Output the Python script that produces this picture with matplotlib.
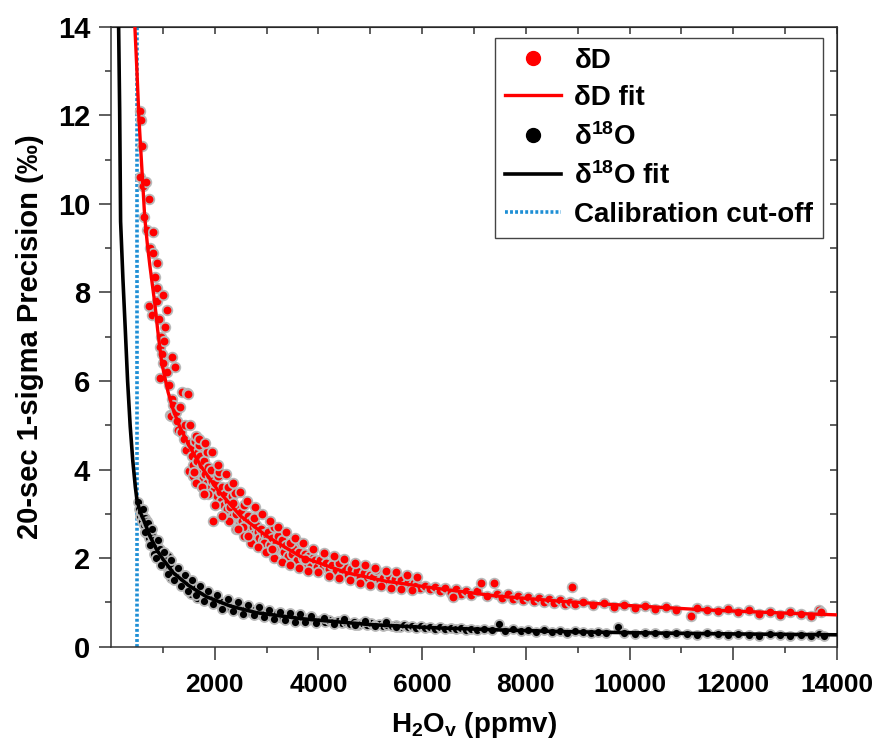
import numpy as np
import matplotlib
matplotlib.use("Agg")
import matplotlib.pyplot as plt
from matplotlib.lines import Line2D

plt.rcParams['font.family'] = ['Liberation Sans', 'DejaVu Sans']
plt.rcParams['font.weight'] = 'bold'
plt.rcParams['mathtext.fontset'] = 'custom'
plt.rcParams['mathtext.rm'] = 'Liberation Sans'
plt.rcParams['mathtext.bf'] = 'Liberation Sans:bold'
plt.rcParams['mathtext.it'] = 'Liberation Sans:italic'

# -------------------------------------------------------
# DATA
# -------------------------------------------------------
# dD scatter
dD_x = [556, 575, 590, 556, 620, 671, 633, 729, 700, 818, 760, 805, 734, 785,
        881, 850, 890, 944, 880, 920, 1010, 1073, 1040, 960, 980, 945, 1000, 1020,
        1080, 1120, 1169, 1232, 1136, 1150, 1180, 1200, 1250, 1280, 1328, 1360,
        1300, 1350, 1400, 1456, 1420, 1476, 1500, 1450, 1520, 1560, 1600, 1580,
        1620, 1650, 1680, 1700, 1720, 1750, 1780, 1800, 1820, 1850, 1880, 1900,
        1920, 1950, 1975, 1990, 1700, 1850, 1640, 1760, 1930,
        2010, 2040, 2060, 2100, 2120, 2150, 2180, 2200, 2230, 2260, 2300, 2330,
        2360, 2400, 2420, 2450, 2480, 2500, 2530, 2560, 2600, 2620, 2650, 2680,
        2700, 2730, 2760, 2800, 2830, 2860, 2900, 2930, 2960, 3000, 2080, 2250,
        2350, 2550, 2750, 2950,
        3030, 3070, 3100, 3140, 3180, 3220, 3260, 3300, 3340, 3380, 3420, 3460,
        3500, 3540, 3580, 3620, 3660, 3700, 3740, 3780, 3820, 3860, 3900, 3940,
        3980, 3150, 3450, 3750,
        4030, 4090, 4150, 4210, 4270, 4330, 4390, 4450, 4510, 4570, 4630, 4690,
        4750, 4810, 4870, 4930, 4990, 5050, 5115, 5180, 5240, 5300, 5360, 5420,
        5480, 5540, 5600, 5660, 5720, 5780, 5840, 5900, 5960, 4400,
        6050, 6150, 6250, 6350, 6450, 6550, 6650, 6750, 6850, 6950, 7050, 7130,
        7250, 7380, 7450, 7550, 7650, 7750, 7850, 7950, 8050, 8150, 8250, 8350,
        8450, 8550, 8650, 8750, 8900, 8850, 8950, 6600,
        9100, 9300, 9500, 9700, 9900, 10100, 10300, 10500, 10700, 10900, 11180,
        11300, 11500, 11700, 11900, 12100, 12300, 12500, 12700, 12900, 13100,
        13300, 13500, 13650, 13700,
        1520, 1580, 1640, 1700, 1760, 1820, 1880, 1940, 2000, 2070, 2140, 2210,
        2280, 2350, 2420, 2490, 2560, 2630, 2700, 2770, 2840, 2910, 2980, 3060,
        3140, 3220, 3300, 3380, 3460, 3540, 3620, 3700, 3800, 3900, 4000, 4100,
        4200, 4300, 4400, 4500, 4600, 4700, 4800, 4900, 5000, 5100, 5200, 5300,
        5400, 5500, 5600, 5700, 5800, 5900, 1600, 1800, 2150, 2450, 2650, 3100]
dD_y = [12.1, 11.9, 11.3, 10.6, 10.4, 10.5, 9.7, 10.1, 9.4, 9.37, 9.0, 8.9, 7.7, 7.5,
        8.67, 8.35, 8.1, 6.77, 7.8, 7.4, 7.95, 7.6, 7.22, 7.0, 6.6, 6.07, 6.4, 6.9,
        6.2, 5.9, 6.55, 6.32, 5.24, 5.22, 5.6, 5.45, 5.3, 5.1, 5.42, 5.76,
        4.9, 4.85, 4.7, 5.73, 5.0, 5.7, 3.96, 4.45, 4.6, 4.3, 4.5, 4.1,
        4.65, 4.2, 4.4, 3.95, 4.3, 4.1, 3.8, 4.2, 3.9, 3.7, 4.05, 3.85,
        3.6, 3.75, 2.85, 3.55, 4.55, 4.4, 4.75, 3.6, 4.0,
        3.7, 3.4, 3.85, 3.5, 3.3, 3.6, 3.2, 3.45, 3.1, 3.3, 3.15, 3.4,
        2.95, 3.48, 3.0, 3.1, 2.8, 3.05, 2.85, 3.2, 2.9, 2.75, 2.95, 2.6,
        2.85, 2.7, 2.55, 2.75, 2.6, 2.45, 2.65, 2.4, 2.55, 2.5, 3.95, 3.6,
        3.25, 2.7, 2.9, 2.35,
        2.6, 2.3, 2.45, 2.7, 2.35, 2.5, 2.2, 2.4, 2.15, 2.3, 2.05, 2.25,
        2.1, 2.2, 1.95, 2.15, 2.35, 2.0, 2.1, 1.9, 2.05, 1.85, 2.0, 1.95,
        1.8, 2.2, 2.35, 1.98,
        1.95, 1.8, 1.9, 1.75, 1.85, 1.7, 1.95, 1.65, 1.8, 1.62, 1.75, 1.6,
        1.7, 1.55, 1.66, 1.5, 1.62, 1.58, 1.74, 1.48, 1.56, 1.45, 1.6, 1.42,
        1.52, 1.4, 1.5, 1.38, 1.47, 1.35, 1.44, 1.4, 1.32, 1.88,
        1.38, 1.3, 1.36, 1.25, 1.33, 1.22, 1.3, 1.2, 1.27, 1.17, 1.25, 1.43,
        1.15, 1.45, 1.2, 1.1, 1.18, 1.08, 1.15, 1.05, 1.12, 1.03, 1.1, 1.0,
        1.08, 0.98, 1.05, 0.96, 1.36, 1.02, 0.97, 1.12,
        1.0, 0.94, 0.98, 0.9, 0.95, 0.88, 0.93, 0.85, 0.9, 0.84, 0.7,
        0.88, 0.82, 0.8, 0.85, 0.78, 0.82, 0.75, 0.79, 0.72, 0.78,
        0.74, 0.7, 0.82, 0.78,
        5.0, 3.85, 3.7, 4.7, 3.6, 4.6, 3.45, 4.4, 3.2, 4.1, 2.95, 3.9,
        2.85, 3.7, 2.65, 3.5, 2.5, 3.3, 2.35, 3.15, 2.25, 3.0, 2.15, 2.85,
        2.0, 2.7, 1.92, 2.6, 1.85, 2.45, 1.78, 2.35, 1.72, 2.2, 1.68, 2.12,
        1.6, 2.05, 1.55, 1.98, 1.5, 1.9, 1.45, 1.85, 1.4, 1.78, 1.38, 1.72,
        1.33, 1.68, 1.3, 1.62, 1.28, 1.58, 3.95, 3.45, 2.95, 2.65, 2.5, 2.2]

# d18O scatter
d18O_x = [530, 545, 560, 580, 600, 615, 630, 650, 665, 680, 700, 720, 735, 750,
          770, 790, 810, 830, 850, 870, 890, 910, 930, 950, 970, 990, 700, 820,
          1020, 1050, 1070, 1100, 1120, 1150, 1170, 1200, 1230, 1250, 1280, 1300,
          1330, 1360, 1390, 1420, 1450, 1480, 1510, 1540, 1570, 1600, 1630, 1660,
          1690, 1720, 1750, 1780, 1810, 1840, 1870, 1900, 1930, 1960, 1990, 1100,
          1400, 1650, 1150, 1550,
          2030, 2080, 2130, 2180, 2230, 2280, 2330, 2380, 2430, 2480, 2530, 2580,
          2630, 2680, 2730, 2780, 2830, 2880, 2930, 2980, 3030, 3100, 3170, 3240,
          3310, 3380, 3450, 3520, 3590, 3660, 3730, 3800, 3870, 3940, 2250, 2600,
          2900, 3300, 3600, 3900,
          4050, 4130, 4210, 4290, 4370, 4450, 4530, 4610, 4690, 4770, 4850, 4930,
          5010, 5090, 5170, 5250, 5330, 5410, 5490, 5570, 5650, 5730, 5810, 5890,
          5970, 6050, 6150, 6250, 6350, 6450, 6550, 6650, 6750, 6850, 6950,
          7050, 7200, 7350, 7478, 7600, 7750, 7900, 8050, 8200, 8350, 8500, 8650,
          8800, 8950, 9100, 9250, 9400, 9550, 9780, 9900, 10100, 10300, 10500,
          10700, 10900, 11100, 11300, 11500, 11700, 11900, 12100, 12300, 12500,
          12700, 12900, 13100, 13300, 13500, 13650, 13750,
          620, 660, 710, 760, 800, 860, 900, 960, 1030, 1090, 1160, 1220,
          1290, 1350, 1420, 1490, 1560, 1640, 1720, 1800, 1880, 1960, 2050, 2150,
          2250, 2350, 2450, 2550, 2650, 2750, 2850, 2950, 3050, 3150, 3250, 3350,
          3450, 3550, 3650, 3750, 3850, 3950, 4100, 4300, 4500, 4700, 4900, 5100,
          5300, 5500]
d18O_y = [3.26, 3.1, 2.95, 3.05, 2.85, 2.95, 2.75, 2.9, 2.6, 2.8, 2.55, 2.7, 2.45, 2.6,
          2.35, 2.5, 2.3, 2.42, 2.2, 2.35, 2.1, 2.25, 2.05, 2.2, 1.95, 2.1, 2.85, 2.1,
          1.95, 1.85, 1.9, 1.75, 1.82, 1.68, 1.78, 1.6, 1.72, 1.55, 1.65, 1.5,
          1.58, 1.45, 1.52, 1.4, 1.48, 1.33, 1.42, 1.3, 1.38, 1.25, 1.33, 1.2,
          1.28, 1.17, 1.24, 1.12, 1.2, 1.1, 1.16, 1.06, 1.13, 1.03, 1.09, 2.05,
          1.62, 1.1, 1.55, 1.2,
          1.05, 0.98, 1.02, 0.94, 0.99, 0.9, 0.95, 0.87, 0.92, 0.84, 0.89, 0.81,
          0.86, 0.79, 0.83, 0.76, 0.81, 0.74, 0.78, 0.72, 0.76, 0.7, 0.74, 0.67,
          0.72, 0.65, 0.69, 0.64, 0.67, 0.62, 0.66, 0.6, 0.64, 0.59, 1.02, 0.88,
          0.73, 0.64, 0.6, 0.63,
          0.6, 0.56, 0.6, 0.55, 0.58, 0.53, 0.57, 0.52, 0.55, 0.5, 0.54, 0.49,
          0.53, 0.48, 0.51, 0.47, 0.5, 0.46, 0.49, 0.45, 0.48, 0.44, 0.47, 0.43,
          0.46, 0.42, 0.45, 0.41, 0.44, 0.4, 0.43, 0.39, 0.42, 0.38, 0.41,
          0.38, 0.41, 0.37, 0.52, 0.36, 0.39, 0.35, 0.38, 0.34, 0.37, 0.33, 0.36,
          0.32, 0.35, 0.34, 0.31, 0.34, 0.3, 0.45, 0.32, 0.29, 0.32, 0.3,
          0.28, 0.31, 0.29, 0.27, 0.3, 0.28, 0.26, 0.29, 0.27, 0.25,
          0.28, 0.26, 0.25, 0.27, 0.24, 0.28, 0.25,
          3.1, 2.6, 2.8, 2.3, 2.65, 2.0, 2.4, 1.85, 2.15, 1.65, 1.95, 1.5,
          1.77, 1.38, 1.63, 1.26, 1.5, 1.16, 1.38, 1.04, 1.27, 0.96, 1.16, 0.86,
          1.08, 0.8, 1.0, 0.75, 0.94, 0.71, 0.89, 0.67, 0.83, 0.63, 0.79, 0.6,
          0.76, 0.57, 0.73, 0.55, 0.7, 0.53, 0.66, 0.51, 0.62, 0.48, 0.58, 0.46,
          0.55, 0.44]

# fit curves
dD_fit_x = [460, 500, 540, 600, 650, 700, 750, 800, 850, 900, 980, 1100, 1200,
            1320, 1500, 1750, 2050, 2500, 3000, 3650, 4550, 5300, 6200, 7400,
            8750, 10000, 11500, 13000, 14000]
dD_fit_y = [14.0, 13.0, 11.9, 10.7, 9.7, 9.1, 8.6, 8.15, 7.7, 7.15, 6.4, 5.75, 5.35,
            4.98, 4.55, 4.05, 3.55, 2.95, 2.5, 2.04, 1.67, 1.48, 1.33, 1.15,
            1.02, 0.93, 0.83, 0.76, 0.72]
d18O_fit_x = [147, 167, 185, 230, 275, 320, 370, 420, 470, 500, 560, 627, 750,
              882, 1000, 1200, 1500, 1840, 2300, 2800, 3700, 5000, 6200, 7500,
              8750, 10500, 12000, 14000]
d18O_fit_y = [14.0, 12.1, 9.6, 8.3, 7.17, 6.0, 4.98, 4.2, 3.6, 3.32, 3.05, 2.87, 2.5,
              2.19, 1.98, 1.67, 1.38, 1.13, 0.92, 0.77, 0.63, 0.5, 0.43, 0.38,
              0.34, 0.31, 0.29, 0.27]

cutoff = 500  # ppmv

labels = ['δD', 'δD fit', 'δ$^{\\mathbf{18}}$O', 'δ$^{\\mathbf{18}}$O fit',
          'Calibration cut-off']

# -------------------------------------------------------
# FIGURE
# -------------------------------------------------------
fig = plt.figure(figsize=(8.81, 7.40), dpi=100)
ax = fig.add_axes([0.126, 0.126, 0.824, 0.838])

ax.scatter(dD_x, dD_y, s=48, c='#ff0000', edgecolors='#b8b8b8', linewidths=1.3, zorder=3)
ax.plot(dD_fit_x, dD_fit_y, color='#ff0000', lw=2.4, zorder=4)
ax.scatter(d18O_x, d18O_y, s=42, c='#000000', edgecolors='#b8b8b8', linewidths=1.3, zorder=3)
ax.plot(d18O_fit_x, d18O_fit_y, color='#000000', lw=2.6, zorder=4)
ax.axvline(cutoff, color='#1e8fd5', lw=2.6, linestyle=(0, (0.8, 0.6)), zorder=2)

ax.set_xlim(0, 14000)
ax.set_ylim(0, 14)
ax.set_xticks(np.arange(2000, 14001, 2000))
ax.set_xticks(np.arange(1000, 14001, 1000), minor=True)
ax.set_yticks(np.arange(0, 14.1, 2))
ax.set_yticks(np.arange(1, 14, 2), minor=True)
ax.set_xticklabels([str(v) for v in range(2000, 14001, 2000)])

ax.tick_params(axis='both', which='major', direction='out', length=9, width=1.1, color='#333333')
ax.tick_params(axis='both', which='minor', direction='out', length=4.5, width=1.1, color='#333333')
ax.tick_params(axis='y', labelsize=21, pad=6)
ax.tick_params(axis='x', labelsize=19, pad=10)
for s in ax.spines.values():
    s.set_linewidth(1.1)
    s.set_color('#333333')

# inward ticks on top and right
secx = ax.secondary_xaxis('top')
secx.set_xticks(np.arange(1000, 14001, 1000))
secx.tick_params(direction='in', length=5, width=1.1, color='#333333', labeltop=False)
secy = ax.secondary_yaxis('right')
secy.set_yticks(np.arange(1, 14, 1))
secy.tick_params(direction='in', length=5, width=1.1, color='#333333', labelright=False)

ax.set_xlabel(r'H$_\mathbf{2}$O$_\mathbf{v}$ (ppmv)', fontsize=20, fontweight='bold', labelpad=9)
ax.set_ylabel('20-sec 1-sigma Precision (‰)', fontsize=21, fontweight='bold', labelpad=10)

handles = [
    Line2D([], [], marker='o', ls='none', color='#ff0000', markersize=10),
    Line2D([], [], color='#ff0000', lw=2.4),
    Line2D([], [], marker='o', ls='none', color='#000000', markersize=10),
    Line2D([], [], color='#000000', lw=2.6),
    Line2D([], [], color='#1e8fd5', lw=2.6, linestyle=(0, (0.8, 0.6))),
]
leg = ax.legend(handles, labels, loc='upper right', bbox_to_anchor=(0.981, 0.982),
                borderaxespad=0, handlelength=2.0, handletextpad=0.5,
                labelspacing=0.42, fancybox=False, framealpha=1, edgecolor='#444444',
                borderpad=0.35, prop={'weight': 'bold', 'size': 20})
leg.get_frame().set_linewidth(1.0)

fig.savefig('out.png', dpi=100)
